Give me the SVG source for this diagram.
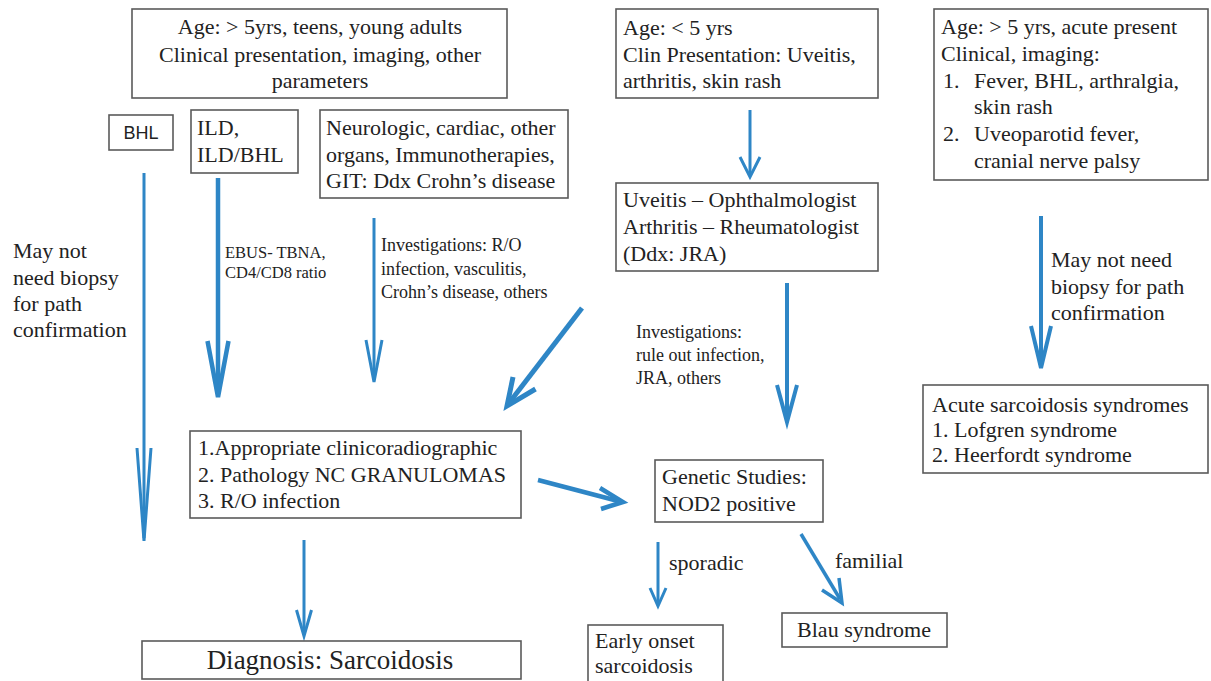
<svg xmlns="http://www.w3.org/2000/svg" width="1211" height="681" viewBox="0 0 1211 681">
<style>
.box{fill:#fff;stroke:#5a5a5a;stroke-width:1.6}
text{font-family:"Liberation Serif","Times New Roman",serif;fill:#222;font-size:22px}
.s{font-size:16.5px}
.m{font-size:18px}
.xl{font-size:27px}
.c{text-anchor:middle}
.sans{font-family:"Liberation Sans",Arial,sans-serif;font-size:18px}
.ln{fill:none;stroke:#2e86c6}
.hd{fill:none;stroke:#2e86c6;stroke-linejoin:miter}
</style>
<rect width="1211" height="681" fill="#fff"/>
<g id="connectors">
  <line class="ln" x1="144" y1="173" x2="144" y2="538" stroke-width="3"/>
  <path class="hd" d="M137,448 L144,541 L151,448" stroke-width="3"/>
  <line class="ln" x1="218" y1="178" x2="218" y2="394" stroke-width="4.5"/>
  <path class="hd" d="M207.5,341 L218,397 L228.5,341" stroke-width="4.5"/>
  <line class="ln" x1="374" y1="218" x2="374" y2="380" stroke-width="3"/>
  <path class="hd" d="M366,340 L374,382 L382,340" stroke-width="3"/>
  <line class="ln" x1="582" y1="308" x2="509" y2="403" stroke-width="5"/>
  <path class="hd" d="M535.5,389 L507,406 L513,377" stroke-width="5"/>
  <line class="ln" x1="750" y1="110" x2="750" y2="175" stroke-width="3"/>
  <path class="hd" d="M740,157 L750,177 L760,157" stroke-width="3"/>
  <line class="ln" x1="787" y1="283" x2="787" y2="419" stroke-width="4"/>
  <path class="hd" d="M777,385 L787,422 L797,385" stroke-width="4"/>
  <line class="ln" x1="1041" y1="216" x2="1041" y2="365" stroke-width="4"/>
  <path class="hd" d="M1031,326 L1041,368 L1051,326" stroke-width="4"/>
  <line class="ln" x1="538" y1="480" x2="620" y2="501.5" stroke-width="4.5"/>
  <path class="hd" d="M600,488 L623,502 L601,509" stroke-width="4.5"/>
  <line class="ln" x1="304" y1="540" x2="304" y2="633" stroke-width="3"/>
  <path class="hd" d="M296.5,610 L304,636 L311.5,610" stroke-width="3"/>
  <line class="ln" x1="658" y1="542" x2="658" y2="603" stroke-width="3"/>
  <path class="hd" d="M650,588 L658,606 L666,588" stroke-width="3"/>
  <line class="ln" x1="801" y1="534" x2="840" y2="599" stroke-width="3.5"/>
  <path class="hd" d="M822,590 L842,603 L839,578" stroke-width="3.5"/>
</g>
<g id="labels">
  <text x="13" y="258">May not</text>
  <text x="13" y="285">need biopsy</text>
  <text x="13" y="311">for path</text>
  <text x="13" y="337">confirmation</text>
  <text class="s" x="225" y="258">EBUS- TBNA,</text>
  <text class="s" x="225" y="278">CD4/CD8 ratio</text>
  <text class="m" x="381" y="251">Investigations: R/O</text>
  <text class="m" x="381" y="275">infection, vasculitis,</text>
  <text class="m" x="381" y="298">Crohn’s disease, others</text>
  <text class="m" x="636" y="338">Investigations:</text>
  <text class="m" x="636" y="361">rule out infection,</text>
  <text class="m" x="636" y="384">JRA, others</text>
  <text x="1051" y="267">May not need</text>
  <text x="1051" y="294">biopsy for path</text>
  <text x="1051" y="320">confirmation</text>
  <text x="669" y="570">sporadic</text>
  <text x="835" y="568">familial</text>
</g>
<g id="n-age-gt5">
  <rect class="box" x="132" y="9" width="375" height="89"/>
  <text class="c" x="320" y="34">Age: &gt; 5yrs,  teens, young adults</text>
  <text class="c" x="320" y="62">Clinical presentation, imaging, other</text>
  <text class="c" x="320" y="88">parameters</text>
</g>
<g id="n-bhl">
  <rect class="box" x="109" y="115" width="64" height="35"/>
  <text class="sans c" x="141" y="139">BHL</text>
</g>
<g id="n-ild">
  <rect class="box" x="191" y="110" width="107" height="63"/>
  <text x="197" y="135">ILD,</text>
  <text x="197" y="162">ILD/BHL</text>
</g>
<g id="n-neuro">
  <rect class="box" x="320" y="110" width="248" height="88"/>
  <text x="326" y="135">Neurologic, cardiac, other</text>
  <text x="326" y="162">organs, Immunotherapies,</text>
  <text x="326" y="188">GIT: Ddx Crohn’s disease</text>
</g>
<g id="n-age-lt5">
  <rect class="box" x="616" y="9" width="262" height="89"/>
  <text x="623" y="35">Age: &lt; 5 yrs</text>
  <text x="623" y="62">Clin Presentation: Uveitis,</text>
  <text x="623" y="88">arthritis, skin rash</text>
</g>
<g id="n-uveitis">
  <rect class="box" x="616" y="183" width="262" height="88"/>
  <text x="623" y="207">Uveitis – Ophthalmologist</text>
  <text x="623" y="234">Arthritis – Rheumatologist</text>
  <text x="623" y="261">(Ddx: JRA)</text>
</g>
<g id="n-acute-present">
  <rect class="box" x="934" y="9" width="274" height="171"/>
  <text x="941" y="34">Age: &gt; 5 yrs, acute present</text>
  <text x="941" y="61">Clinical, imaging:</text>
  <text x="943" y="88">1.</text>
  <text x="974" y="88">Fever, BHL, arthralgia,</text>
  <text x="974" y="114">skin rash</text>
  <text x="943" y="141">2.</text>
  <text x="974" y="141">Uveoparotid fever,</text>
  <text x="974" y="168">cranial nerve palsy</text>
</g>
<g id="n-acute-syndromes">
  <rect class="box" x="923" y="385" width="285" height="88"/>
  <text x="932" y="412">Acute sarcoidosis syndromes</text>
  <text x="932" y="437">1. Lofgren syndrome</text>
  <text x="932" y="462">2. Heerfordt syndrome</text>
</g>
<g id="n-criteria">
  <rect class="box" x="190" y="431" width="331" height="87"/>
  <text x="198" y="455">1.Appropriate clinicoradiographic</text>
  <text x="198" y="482">2. Pathology NC GRANULOMAS</text>
  <text x="198" y="508">3. R/O infection</text>
</g>
<g id="n-genetic">
  <rect class="box" x="655" y="460" width="168" height="62"/>
  <text x="662" y="484">Genetic Studies:</text>
  <text x="662" y="511">NOD2 positive</text>
</g>
<g id="n-diagnosis">
  <rect class="box" x="142" y="641" width="379" height="38"/>
  <text class="c xl" x="330" y="669">Diagnosis: Sarcoidosis</text>
</g>
<g id="n-early-onset">
  <rect class="box" x="588" y="625" width="135" height="60"/>
  <text x="595" y="648">Early onset</text>
  <text x="595" y="673">sarcoidosis</text>
</g>
<g id="n-blau">
  <rect class="box" x="782" y="613" width="165" height="34"/>
  <text class="c" x="864" y="637">Blau syndrome</text>
</g>
</svg>
